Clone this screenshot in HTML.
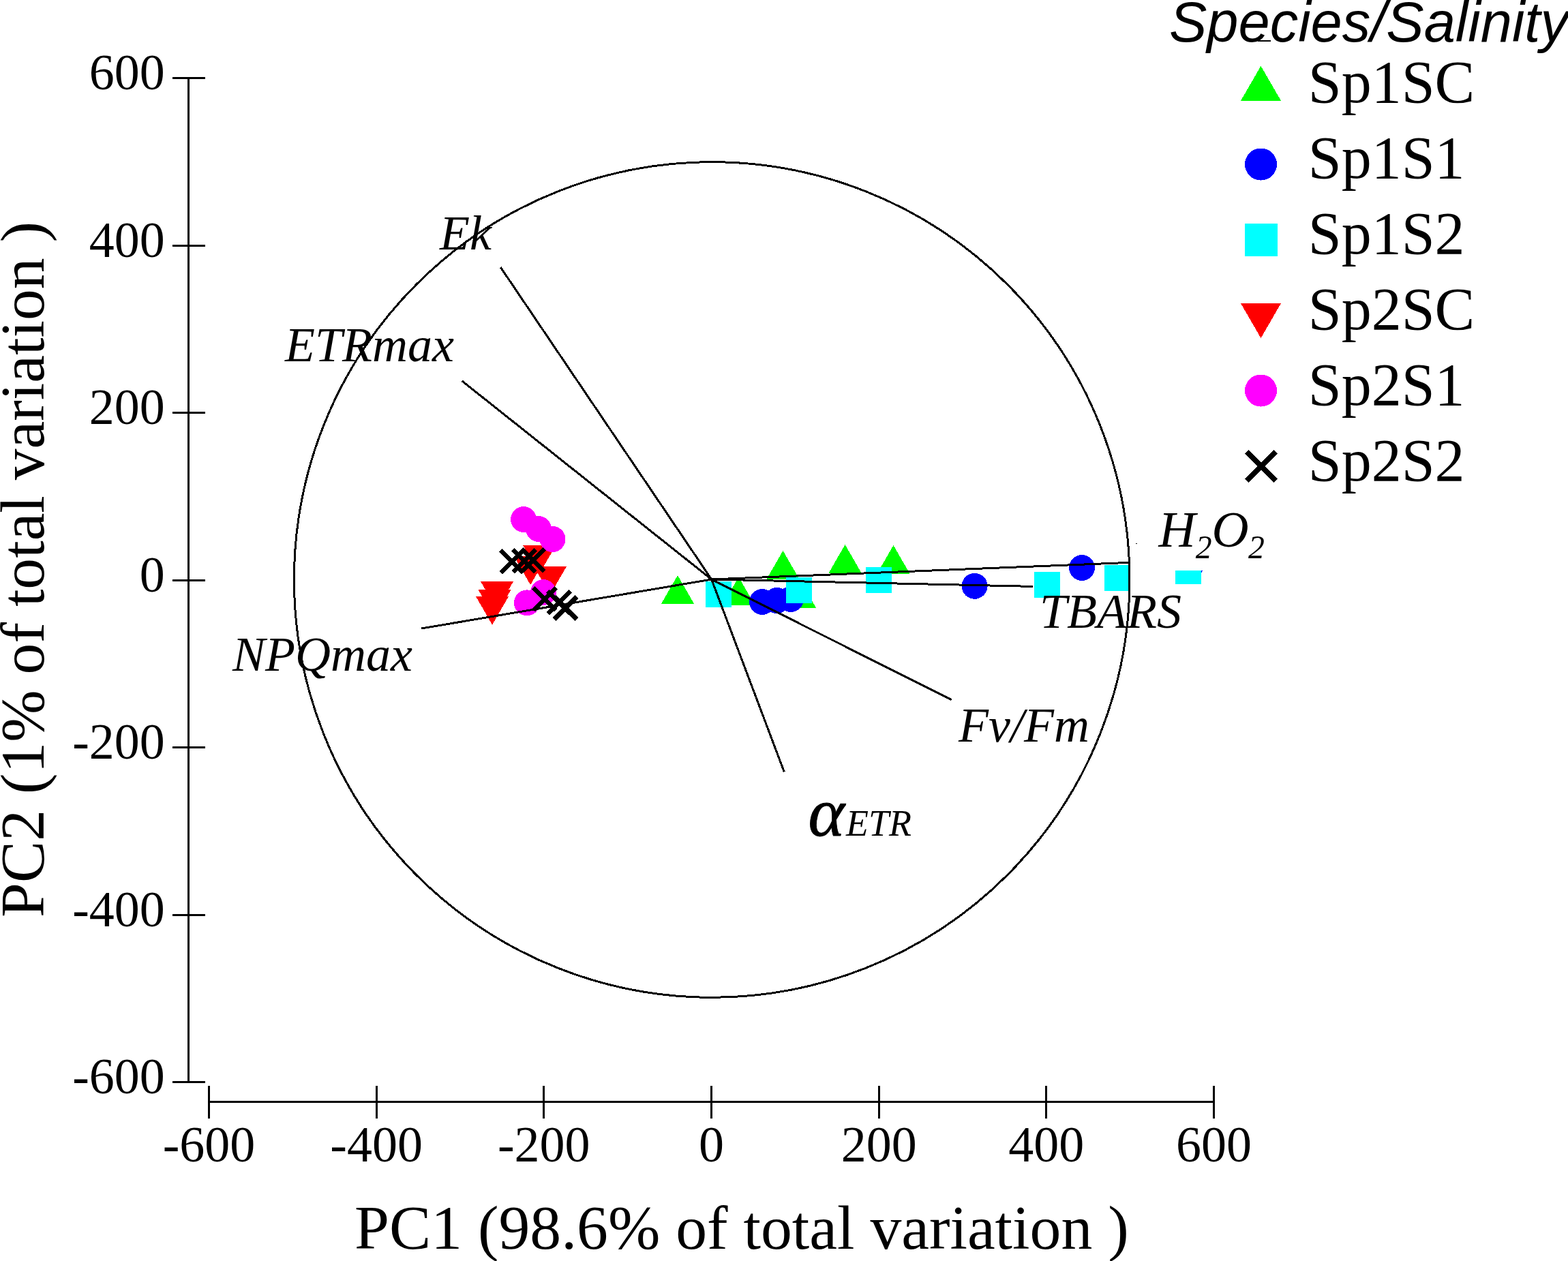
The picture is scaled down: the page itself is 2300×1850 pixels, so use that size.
<!DOCTYPE html>
<html><head><meta charset="utf-8"><title>PCA biplot</title>
<style>
html,body{margin:0;padding:0;background:#fff;}
body{width:2300px;height:1850px;overflow:hidden;}
svg{display:block;}
</style></head>
<body>
<svg width="2300" height="1850" viewBox="0 0 2300 1850">
<rect width="2300" height="1850" fill="#fff"/>
<g shape-rendering="crispEdges">
<polygon points="970.0,885.6 1018.0,885.6 994.0,844.0" fill="#00ff00"/>
<polygon points="1059.5,888.1 1107.5,888.1 1083.5,846.5" fill="#00ff00"/>
<polygon points="1149.0,891.8 1197.0,891.8 1173.0,850.2" fill="#00ff00"/>
<polygon points="1124.5,849.6 1172.5,849.6 1148.5,808.0" fill="#00ff00"/>
<polygon points="1215.6,840.6 1263.6,840.6 1239.6,799.0" fill="#00ff00"/>
<polygon points="1286.5,841.6 1334.5,841.6 1310.5,800.0" fill="#00ff00"/>
<circle cx="1118" cy="883" r="19" fill="#0000ff"/>
<circle cx="1139.5" cy="881" r="19" fill="#0000ff"/>
<circle cx="1160" cy="879" r="19" fill="#0000ff"/>
<circle cx="1429.6" cy="859.8" r="19" fill="#0000ff"/>
<circle cx="1587" cy="833" r="19" fill="#0000ff"/>
<rect x="1035" y="853" width="38" height="38" fill="#00ffff"/>
<rect x="1153" y="847" width="38" height="38" fill="#00ffff"/>
<rect x="1270" y="832" width="38" height="38" fill="#00ffff"/>
<rect x="1517" y="839" width="38" height="38" fill="#00ffff"/>
<rect x="1620" y="829" width="38" height="38" fill="#00ffff"/>
<rect x="1724" y="837" width="38" height="20" fill="#00ffff"/>
<polygon points="705.0,853.1 753.0,853.1 729.0,894.7" fill="#ff0000"/>
<polygon points="701.5,865.1 749.5,865.1 725.5,906.7" fill="#ff0000"/>
<polygon points="698.0,875.0 746.0,875.0 722.0,916.6" fill="#ff0000"/>
<polygon points="767.2,800.2 815.2,800.2 791.2,841.8" fill="#ff0000"/>
<polygon points="754.1,816.4 802.1,816.4 778.1,858.0" fill="#ff0000"/>
<polygon points="783.0,831.0 831.0,831.0 807.0,872.6" fill="#ff0000"/>
<circle cx="768" cy="762" r="19" fill="#ff00ff"/>
<circle cx="790" cy="776" r="19" fill="#ff00ff"/>
<circle cx="810.5" cy="791" r="19" fill="#ff00ff"/>
<circle cx="773" cy="884.4" r="19" fill="#ff00ff"/>
<circle cx="797" cy="869" r="19" fill="#ff00ff"/>
<path d="M734.5,807.5L767.5,840.5M734.5,840.5L767.5,807.5" stroke="#000" stroke-width="7" fill="none"/>
<path d="M752.5,806.5L785.5,839.5M752.5,839.5L785.5,806.5" stroke="#000" stroke-width="7" fill="none"/>
<path d="M765.5,805.5L798.5,838.5M765.5,838.5L798.5,805.5" stroke="#000" stroke-width="7" fill="none"/>
<path d="M782.5,862.5L815.5,895.5M782.5,895.5L815.5,862.5" stroke="#000" stroke-width="7" fill="none"/>
<path d="M803.5,867.5L836.5,900.5M803.5,900.5L836.5,867.5" stroke="#000" stroke-width="7" fill="none"/>
<path d="M813.0,875.5L846.0,908.5M813.0,908.5L846.0,875.5" stroke="#000" stroke-width="7" fill="none"/>
<rect x="1666" y="797" width="2" height="1.2" fill="#000"/>
<rect x="1762" y="837" width="2" height="1" fill="#0000ff"/>
<rect x="1762" y="837" width="1" height="3" fill="#0000ff"/>
<circle cx="1044.2" cy="850.5" r="612.8" fill="none" stroke="#000" stroke-width="3"/>
<line x1="1043.7" y1="850.0" x2="734.3" y2="392.2" stroke="#000" stroke-width="3"/>
<line x1="1043.7" y1="850.0" x2="677.7" y2="558.9" stroke="#000" stroke-width="3"/>
<line x1="1043.7" y1="850.0" x2="618.4" y2="922" stroke="#000" stroke-width="3"/>
<line x1="1043.7" y1="850.0" x2="1655.4" y2="825.4" stroke="#000" stroke-width="3"/>
<line x1="1043.7" y1="850.0" x2="1515" y2="860.4" stroke="#000" stroke-width="3"/>
<line x1="1043.7" y1="850.0" x2="1395.6" y2="1026.7" stroke="#000" stroke-width="3"/>
<line x1="1043.7" y1="850.0" x2="1150.3" y2="1132.5" stroke="#000" stroke-width="3"/>
<g stroke="#000" stroke-width="3" fill="none">
<line x1="276.5" y1="114.5" x2="276.5" y2="1587.5"/>
<line x1="253" y1="114.5" x2="301" y2="114.5"/>
<line x1="253" y1="360.0" x2="301" y2="360.0"/>
<line x1="253" y1="605.5" x2="301" y2="605.5"/>
<line x1="253" y1="851.0" x2="301" y2="851.0"/>
<line x1="253" y1="1096.5" x2="301" y2="1096.5"/>
<line x1="253" y1="1342.0" x2="301" y2="1342.0"/>
<line x1="253" y1="1587.5" x2="301" y2="1587.5"/>
<line x1="306.5" y1="1616.5" x2="1780.5" y2="1616.5"/>
<line x1="306.5" y1="1593" x2="306.5" y2="1641"/>
<line x1="552.2" y1="1593" x2="552.2" y2="1641"/>
<line x1="797.8" y1="1593" x2="797.8" y2="1641"/>
<line x1="1043.5" y1="1593" x2="1043.5" y2="1641"/>
<line x1="1289.2" y1="1593" x2="1289.2" y2="1641"/>
<line x1="1534.8" y1="1593" x2="1534.8" y2="1641"/>
<line x1="1780.5" y1="1593" x2="1780.5" y2="1641"/>
</g>
<g style="font-family:'Liberation Serif',serif;font-size:74px" text-anchor="end">
<text x="241.8" y="131.3">600</text>
<text x="241.8" y="376.8">400</text>
<text x="241.8" y="622.3">200</text>
<text x="241.8" y="867.8">0</text>
<text x="241.8" y="1113.3">-200</text>
<text x="241.8" y="1358.8">-400</text>
<text x="241.8" y="1604.3">-600</text>
</g>
<g style="font-family:'Liberation Serif',serif;font-size:74px" text-anchor="middle">
<text x="306.5" y="1704">-600</text>
<text x="552.2" y="1704">-400</text>
<text x="797.8" y="1704">-200</text>
<text x="1043.5" y="1704">0</text>
<text x="1289.2" y="1704">200</text>
<text x="1534.8" y="1704">400</text>
<text x="1780.5" y="1704">600</text>
</g>
<text x="520" y="1831.5" style="font-family:'Liberation Serif',serif;font-size:91.7px">PC1 (98.6% of total variation )</text>
<text transform="translate(64,1346) rotate(-90)" x="0" y="0" style="font-family:'Liberation Serif',serif;font-size:91.7px">PC2 (1% of total variation )</text>
<text x="645" y="365.6" style="font-family:'Liberation Serif',serif;font-style:italic;font-size:72px">Ek</text>
<text x="418" y="529.7" style="font-family:'Liberation Serif',serif;font-style:italic;font-size:72px">ETRmax</text>
<text x="341" y="983.8" style="font-family:'Liberation Serif',serif;font-style:italic;font-size:72px">NPQmax</text>
<text x="1525" y="920.8" style="font-family:'Liberation Serif',serif;font-style:italic;font-size:72px">TBARS</text>
<text x="1406" y="1088" style="font-family:'Liberation Serif',serif;font-style:italic;font-size:72px">Fv/Fm</text>
<text x="1699.4" y="802.3" style="font-family:'Liberation Serif',serif;font-style:italic;font-size:75px">H</text>
<text x="1753.8" y="819.3" style="font-family:'Liberation Serif',serif;font-style:italic;font-size:47.7px">2</text>
<text x="1777.6" y="802.3" style="font-family:'Liberation Serif',serif;font-style:italic;font-size:75px">O</text>
<text x="1830.9" y="819.3" style="font-family:'Liberation Serif',serif;font-style:italic;font-size:47.7px">2</text>
<text x="1185.5" y="1226.3" style="font-family:'Liberation Serif',serif;font-style:italic;font-size:102px;stroke:#000;stroke-width:0.9px">α</text>
<text x="1241" y="1226" style="font-family:'Liberation Serif',serif;font-style:italic;font-size:54px">ETR</text>
<text x="1715" y="61" style="font-family:'Liberation Sans',sans-serif;font-style:italic;font-size:83px">Species/Salinity</text>
<line x1="1845" y1="60" x2="1864" y2="60" stroke="#000" stroke-width="1.5"/>
<polygon points="1820.0,147.8 1879.0,147.8 1849.5,96.8" fill="#00ff00"/>
<circle cx="1849.5" cy="241" r="23.5" fill="#0000ff"/>
<rect x="1826" y="328" width="48" height="48" fill="#00ffff"/>
<polygon points="1820.0,445.0 1879.0,445.0 1849.5,496.0" fill="#ff0000"/>
<circle cx="1849.5" cy="573" r="23.5" fill="#ff00ff"/>
<path d="M1828.8,662.8L1871.2,705.2M1828.8,705.2L1871.2,662.8" stroke="#000" stroke-width="8" fill="none"/>
<g style="font-family:'Liberation Serif',serif;font-size:88px">
<text x="1918.7" y="150.2">Sp1SC</text>
<text x="1918.7" y="261.2">Sp1S1</text>
<text x="1918.7" y="372.2">Sp1S2</text>
<text x="1918.7" y="483.2">Sp2SC</text>
<text x="1918.7" y="594.2">Sp2S1</text>
<text x="1918.7" y="705.2">Sp2S2</text>
</g>
</g>
</svg>
</body></html>
